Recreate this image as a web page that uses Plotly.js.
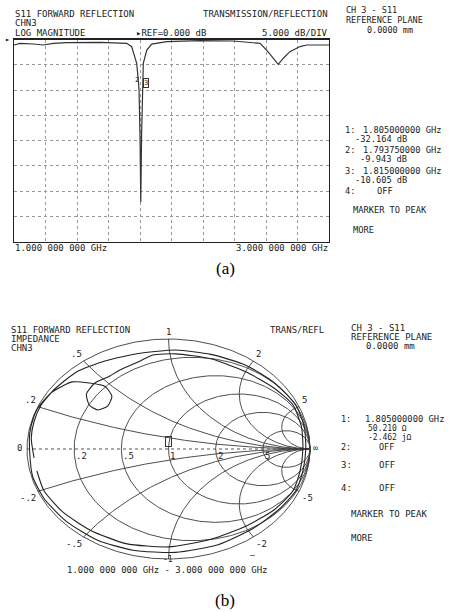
<!DOCTYPE html>
<html><head><meta charset="utf-8">
<script src="https://cdn.plot.ly/plotly-3.0.1.min.js"></script>
<style>html,body{margin:0;padding:0;background:#fff}#chart{width:449px;height:612px}</style>
</head><body><div id="chart"></div>
<script>
// ---------- Panel (a): S11 log magnitude ----------
const freqGHz = [1.000,1.038,1.123,1.186,1.250,1.335,1.546,1.716,1.747,1.768,1.779,1.789,1.79375,1.800,1.805,1.810,1.815,1.821,1.843,1.874,1.970,2.181,2.390,2.562,2.604,2.636,2.668,2.678,2.710,2.752,2.816,2.859,3.000];
const s11dB   = [-1.09,-0.76,-0.89,-1.09,-0.76,-0.63,-0.56,-0.76,-1.42,-3.4,-4.7,-8.0,-9.943,-19.0,-32.164,-19.0,-10.605,-4.7,-2.1,-0.9,-0.43,-0.23,-0.30,-0.76,-2.1,-3.4,-4.7,-4.9,-3.7,-2.4,-1.4,-1.09,-1.09];
const markerNames   = ['1','2','3'];
const markerFreqGHz = [1.805, 1.79375, 1.815];
const markerDB      = [-32.164, -9.943, -10.605];
const xTickLabels = ['1.000 000 000 GHz','3.000 000 000 GHz'];

// ---------- Panel (b): S11 Smith chart (reflection coefficient) ----------
const gammaRe = [-0.95,-0.97,-0.95,-0.90,-0.80,-0.65,-0.45,-0.20,0.05,0.30,0.55,0.75,0.90,0.96,0.97,0.95,0.90,0.78,0.60,0.35,0.05,-0.25,-0.50,-0.72,-0.88,-0.96,-0.98,-0.98,-0.95,-0.92,-0.82,-0.68,-0.56,-0.45,-0.40,-0.43,-0.50,-0.56,-0.58,-0.52,-0.42,-0.34,-0.20,-0.11,0.05,0.30,0.55,0.75,0.88,0.94,0.95,0.93,0.88,0.75,0.55,0.30,0.00,-0.30,-0.55,-0.75,-0.88,-0.93];
const gammaIm = [-0.08,0.10,0.25,0.40,0.55,0.70,0.80,0.87,0.90,0.86,0.76,0.60,0.40,0.20,0.00,-0.20,-0.38,-0.55,-0.72,-0.87,-0.94,-0.92,-0.83,-0.66,-0.45,-0.25,-0.05,0.15,0.30,0.38,0.52,0.61,0.60,0.57,0.48,0.39,0.355,0.40,0.50,0.60,0.66,0.72,0.80,0.855,0.865,0.82,0.70,0.55,0.40,0.20,0.00,-0.20,-0.38,-0.55,-0.70,-0.82,-0.89,-0.86,-0.74,-0.57,-0.38,-0.20];
const smithMarkerR = [50.210];   // ohm
const smithMarkerX = [-2.462];   // ohm
const z0 = 50;
const rCircles = [0.2, 0.5, 1, 2, 5];
const xArcs = [0.2, 0.5, 1, 2, 5, -0.2, -0.5, -1, -2, -5];
const rLabels = ['.2','.5','1','2','5'];
const xLabels = ['.2','.5','1','2','5','-.2','-.5','-1','-2','-5'];

const W = 449, H = 612;
const px = x => x / W, py = y => 1 - y / H;
const FONT = 'DejaVu Sans Mono', INK = '#222';

function gam(r, x) { const d = (r + 1) * (r + 1) + x * x; return [(r * r + x * x - 1) / d, 2 * x / d]; }

const traces = [];
traces.push({x: freqGHz, y: s11dB, xaxis: 'x', yaxis: 'y', mode: 'lines', line: {color: '#333', width: 1.2}, hoverinfo: 'skip'});

const gridStyle = {color: '#3a3a3a', width: 0.9};
function addCurve(xs, ys, extra) { traces.push(Object.assign({x: xs, y: ys, xaxis: 'x2', yaxis: 'y2', mode: 'lines', line: gridStyle, hoverinfo: 'skip'}, extra || {})); }
{ const xs = [], ys = []; for (let i = 0; i <= 360; i++) { const t = i * Math.PI / 180; xs.push(Math.cos(t)); ys.push(Math.sin(t)); } addCurve(xs, ys); }
rCircles.forEach(r => { const xs = [], ys = []; for (let i = 0; i <= 360; i++) { const t = i * Math.PI / 180; xs.push(r / (1 + r) + Math.cos(t) / (1 + r)); ys.push(Math.sin(t) / (1 + r)); } addCurve(xs, ys); });
xArcs.forEach(xv => { const xs = [], ys = []; for (let i = 0; i <= 400; i++) { const s = Math.tan(i / 400 * Math.PI / 2 * 0.9999); const g = gam(s, xv); xs.push(g[0]); ys.push(g[1]); } xs.push(1); ys.push(0); addCurve(xs, ys); });
addCurve([-1, 1], [0, 0], {line: {color: '#555', width: 1, dash: 'dot'}});
addCurve(gammaRe, gammaIm, {line: {color: '#222', width: 1.1, shape: 'spline', smoothing: 0.6}});

const ann = [];
function txt(x, y, text, anchor, size, extra) {
  ann.push(Object.assign({xref: 'paper', yref: 'paper', x: px(x), y: py(y), text: text, showarrow: false, xanchor: anchor || 'left', yanchor: 'middle', borderpad: 0, font: {family: FONT, size: size || 9, color: INK}}, extra || {}));
}
// ---- panel a texts
txt(14, 14, 'S11 FORWARD REFLECTION');
txt(14, 23, 'CHN3');
txt(14, 33, 'LOG MAGNITUDE');
txt(135, 33, '▸REF=0.000 dB');
txt(329, 33, '5.000 dB/DIV', 'right');
txt(329, 14, 'TRANSMISSION/REFLECTION', 'right');
txt(4, 39, '▸', 'left', 8);
txt(14, 248, xTickLabels[0]);
txt(329, 248, xTickLabels[1], 'right');
const RA = 8.7;
txt(345, 10, 'CH 3 - S11', 'left', 8.5);
txt(345, 19.5, 'REFERENCE PLANE', 'left', 8.5);
txt(390, 29.5, '0.0000 mm', 'center', 8.5);
const mRowsA = [130, 150, 171];
markerNames.forEach((m, i) => {
  txt(344, mRowsA[i], m + ':', 'left', RA);
  txt(442, mRowsA[i], markerFreqGHz[i].toFixed(9) + ' GHz', 'right', RA);
  txt(408, mRowsA[i] + 9, markerDB[i].toFixed(3) + ' dB', 'right', RA);
});
txt(344, 191, '4:', 'left', RA);
txt(376, 191, 'OFF', 'left', RA);
txt(352, 210, 'MARKER TO PEAK', 'left', RA);
txt(352, 230, 'MORE', 'left', RA);
txt(225, 268, '(a)', 'center', 17, {font: {family: 'Liberation Serif', size: 17, color: '#000'}});
ann.push({xref: 'x', yref: 'y', x: markerFreqGHz[1], y: markerDB[1], text: markerNames[1], showarrow: false, yshift: 10, xshift: -2, font: {family: FONT, size: 7, color: INK}});
ann.push({xref: 'x', yref: 'y', x: markerFreqGHz[2], y: markerDB[2], text: markerNames[2], showarrow: false, yshift: 10, xshift: 4, bordercolor: '#333', borderwidth: 1, borderpad: 0, font: {family: FONT, size: 7, color: INK}});

// ---- panel b texts
txt(10, 330, 'S11 FORWARD REFLECTION');
txt(10, 339, 'IMPEDANCE');
txt(10, 348, 'CHN3');
txt(325, 330, 'TRANS/REFL', 'right');
txt(350, 328, 'CH 3 - S11');
txt(350, 337, 'REFERENCE PLANE');
txt(390, 346, '0.0000 mm', 'center');
txt(340, 419, '1:', 'left', 8.5);
txt(445, 419, '1.805000000 GHz', 'right', 8.8);
txt(408, 428.5, smithMarkerR[0].toFixed(3) + ' Ω', 'right', 8);
txt(413, 437.5, smithMarkerX[0].toFixed(3) + ' jΩ', 'right', 8);
txt(340, 447, '2:', 'left', 8.5); txt(378, 447, 'OFF', 'left', 8.5);
txt(340, 465, '3:'); txt(378, 465, 'OFF');
txt(340, 488, '4:'); txt(378, 488, 'OFF');
txt(350, 514, 'MARKER TO PEAK');
txt(350, 538, 'MORE');
txt(167, 570, '1.000 000 000 GHz - 3.000 000 000 GHz', 'center');
txt(225, 600, '(b)', 'center', 17, {font: {family: 'Liberation Serif', size: 17, color: '#000'}});
txt(252, 555, '–', 'center', 8);

function sl(x, y, text, xa, ya, xs, ys, size) { ann.push({xref: 'x2', yref: 'y2', x: x, y: y, text: text, showarrow: false, xanchor: xa, yanchor: ya, xshift: xs || 0, yshift: ys || 0, borderpad: 0, font: {family: FONT, size: size || 9, color: INK}}); }
sl(-1, 0, '0', 'right', 'middle', -4, 1);
sl(1, 0, '∞', 'left', 'middle', 2, 1);
rCircles.forEach((r, i) => { const g = gam(r, 0); sl(g[0], 0, rLabels[i], 'left', 'top', 1, -1); });
xArcs.forEach((xv, i) => {
  const g = gam(0, xv);
  const centre = Math.abs(g[0]) < 0.1;
  const xa = centre ? 'center' : (g[0] < 0 ? 'right' : 'left');
  let ya = xv > 0 ? 'bottom' : 'top';
  let ys = xv > 0 ? 1 : -1;
  let size = 9;
  if (centre && xv < 0) { ya = 'middle'; ys = 0; size = 8; }
  sl(g[0], g[1], xLabels[i], xa, ya, g[0] < -0.1 ? -1 : (g[0] > 0.1 ? 2 : 0), ys, size);
});
{
  const zr = smithMarkerR[0] / z0, zx = smithMarkerX[0] / z0; const g = gam(zr, zx);
  ann.push({xref: 'x2', yref: 'y2', x: g[0], y: g[1], text: '&nbsp;', showarrow: false, yshift: 10, bordercolor: '#333', borderwidth: 1, borderpad: 0, font: {family: FONT, size: 8, color: INK}});
}

const layout = {
  width: W, height: H, margin: {l: 0, r: 0, t: 0, b: 0}, showlegend: false,
  paper_bgcolor: '#fff', plot_bgcolor: '#fff',
  xaxis: {domain: [px(14), px(329)], range: [1, 3], tick0: 1, dtick: 0.2, showgrid: true, gridcolor: '#999', griddash: 'dot', gridwidth: 1, showticklabels: false, ticks: '', zeroline: false, showline: true, mirror: true, linecolor: '#222', linewidth: 1.2, anchor: 'y'},
  yaxis: {domain: [py(241.7), py(39.5)], range: [-40, 0], tick0: 0, dtick: 5, showgrid: true, gridcolor: '#999', griddash: 'dot', gridwidth: 1, showticklabels: false, ticks: '', zeroline: false, showline: true, mirror: true, linecolor: '#222', linewidth: 1.2, anchor: 'x'},
  xaxis2: {domain: [px(168.5 - 141.5 * 1.12), px(168.5 + 141.5 * 1.12)], range: [-1.12, 1.12], visible: false, anchor: 'y2'},
  yaxis2: {domain: [py(449 + 110 * 1.12), py(449 - 110 * 1.12)], range: [-1.12, 1.12], visible: false, anchor: 'x2'},
  annotations: ann
};
Plotly.newPlot('chart', traces, layout, {staticPlot: true, displayModeBar: false});
</script></body></html>
